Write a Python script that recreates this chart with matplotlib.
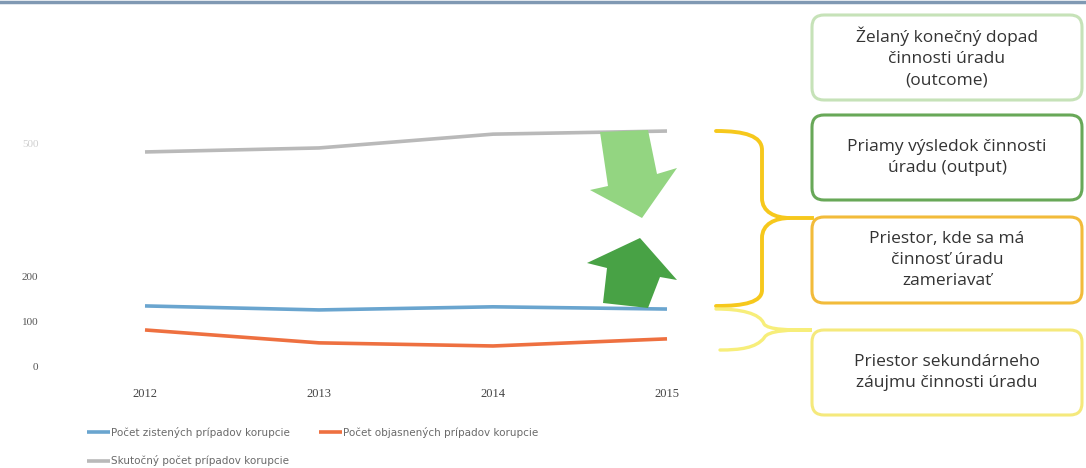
import matplotlib
matplotlib.use('Agg')
import matplotlib.pyplot as plt
from matplotlib.patches import FancyBboxPatch, Polygon, PathPatch
from matplotlib.path import Path

# Data
years = ['2012', '2013', '2014', '2015']
zistene = [135, 126, 133, 128]          # Počet zistených prípadov korupcie
objasnene = [81, 52, 45, 61]            # Počet objasnených prípadov korupcie
skutocny = [481, 490, 521, 528]         # Skutočný počet prípadov korupcie
y_ticks = [0, 100, 200, 500]

series_labels = ['Počet zistených prípadov korupcie',
                 'Počet objasnených prípadov korupcie',
                 'Skutočný počet prípadov korupcie']
series_colors = ['#6aa5cf', '#ee7040', '#b9b9b9']

box_texts = ['Želaný konečný dopad\nčinnosti úradu\n(outcome)',
             'Priamy výsledok činnosti\núradu (output)',
             'Priestor, kde sa má\nčinnosť úradu\nzameriavať',
             'Priestor sekundárneho\nzáujmu činnosti úradu']
box_colors = ['#c6e2b8', '#68a858', '#f2bb3a', '#f5e97c']

W, H = 1086, 468
fig = plt.figure(figsize=(W / 100, H / 100), dpi=100)


def fx(px):
    return px / W


def fy(py):
    return 1 - py / H


# --- line chart ---
ax = fig.add_axes([fx(58), fy(366), fx(754) - fx(58), fy(99) - fy(366)])
x = range(len(years))
for vals, lab, col in zip([zistene, objasnene, skutocny], series_labels, series_colors):
    ax.plot(x, vals, color=col, linewidth=2.6, label=lab, solid_capstyle='butt')
ax.set_xlim(-0.5, len(years) - 0.5)
ax.set_ylim(0, 600)
ax.set_xticks(list(x))
ax.set_xticklabels(years, family='Liberation Serif', fontsize=9, color='#444444')
ax.set_yticks(y_ticks)
ax.set_yticklabels([str(v) for v in y_ticks], family='Liberation Serif', fontsize=8,
                   color='#555555')
ax.get_yticklabels()[-1].set_color('#cfcfcf')
ax.tick_params(length=0, pad=14)
ax.tick_params(axis='x', pad=16)
for s in ax.spines.values():
    s.set_visible(False)

handles, labels = ax.get_legend_handles_labels()
order = [0, 1, 2]
leg = fig.legend([handles[i] for i in order], [labels[i] for i in order],
                 loc='upper left', bbox_to_anchor=(fx(78), fy(420)), ncol=2,
                 frameon=False, fontsize=7.5, handlelength=2.2, handletextpad=0.1,
                 columnspacing=3.5, labelspacing=1.2)
for t in leg.get_texts():
    t.set_color('#6a6a6a')
# put third entry on its own row under the first
leg.remove()
leg1 = fig.legend([handles[0], handles[1]], [labels[0], labels[1]],
                  loc='center left', bbox_to_anchor=(fx(78), fy(432)), ncol=2,
                  frameon=False, fontsize=7.5, handlelength=2.2, handletextpad=0.1,
                  columnspacing=2.8)
leg2 = fig.legend([handles[2]], [labels[2]],
                  loc='center left', bbox_to_anchor=(fx(78), fy(461)),
                  frameon=False, fontsize=7.5, handlelength=2.2, handletextpad=0.1)
for lg in (leg1, leg2):
    for t in lg.get_texts():
        t.set_color('#6a6a6a')

# --- overlay in pixel coordinates for the diagram part ---
ov = fig.add_axes([0, 0, 1, 1], zorder=5)
ov.set_xlim(0, W)
ov.set_ylim(H, 0)
ov.axis('off')
ov.patch.set_alpha(0)

# header line
ov.plot([0, W], [1.5, 1.5], color='#6080a0', lw=2.5, alpha=0.8)

# boxes
box_rows = [(15, 100), (115, 200), (217, 303), (330, 415)]
for (top, bot), txt, col in zip(box_rows, box_texts, box_colors):
    ov.add_patch(FancyBboxPatch((812, top), 270, bot - top,
                                boxstyle='round,pad=0,rounding_size=12',
                                fc='white', ec=col, lw=2.2))
    ov.text(947, (top + bot) / 2, txt, ha='center', va='center', fontsize=12.5,
            family='Open Sans', color='#333333', linespacing=1.4)

# arrows
light = [(600, 132), (648, 130), (657, 174), (677, 168), (642, 218),
         (590, 190), (608, 186)]
dark = [(640, 238), (677, 280), (660, 277), (648, 308), (603, 303),
        (607, 268), (587, 263)]
ov.add_patch(Polygon(light, closed=True, fc='#93d581', ec='none'))
ov.add_patch(Polygon(dark, closed=True, fc='#48a245', ec='none'))

# big brace
verts = [(716, 131), (745, 131), (762, 136), (762, 150),
         (762, 198),
         (762, 212), (775, 218), (790, 218),
         (775, 218), (762, 224), (762, 238),
         (762, 290),
         (762, 302), (745, 306), (716, 306)]
codes = [Path.MOVETO, Path.CURVE4, Path.CURVE4, Path.CURVE4,
         Path.LINETO,
         Path.CURVE4, Path.CURVE4, Path.CURVE4,
         Path.CURVE4, Path.CURVE4, Path.CURVE4,
         Path.LINETO,
         Path.CURVE4, Path.CURVE4, Path.CURVE4]
ov.add_patch(PathPatch(Path(verts, codes), fc='none', ec='#f6c81c', lw=2.8,
                       capstyle='round'))
ov.plot([790, 812], [218, 218], color='#f6c81c', lw=2.8)

# small brace
verts2 = [(716, 309), (740, 309), (760, 313), (764, 324),
          (768, 330), (790, 330), (812, 330),
          (790, 330), (768, 330), (764, 338),
          (756, 348), (740, 350), (720, 350)]
codes2 = [Path.MOVETO, Path.CURVE4, Path.CURVE4, Path.CURVE4,
          Path.CURVE4, Path.CURVE4, Path.CURVE4,
          Path.CURVE4, Path.CURVE4, Path.CURVE4,
          Path.CURVE4, Path.CURVE4, Path.CURVE4]
ov.add_patch(PathPatch(Path(verts2, codes2), fc='none', ec='#f7ee7a', lw=2.4,
                       capstyle='round'))

fig.savefig('out.png', dpi=100)
